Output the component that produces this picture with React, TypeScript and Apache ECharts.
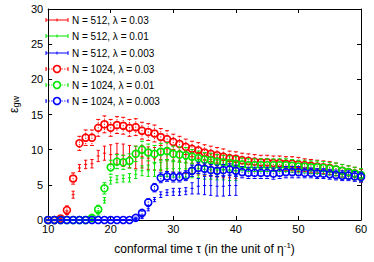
import React, { useEffect, useRef } from "react";
import * as echarts from "echarts";

// conformal time values
const tau1024 = [10,11,12,13,14,15,16,17,18,19,20,21,22,23,24,25,26,27,28,29,30,31,32,33,34,35,36,37,38,39,40,41,42,43,44,45,46,47,48,49,50,51,52,53,54,55,56,57,58,59,60];
const tau512 = [10,11,12,13,14,15,16,17,18,19,20,21,22,23,24,25,26,27,28,29,30,31,32,33,34,35,36,37,38,39,40];

// N = 512 series
const red512 = [0,0,0.1,0.9,3.6,7.4,7.9,8.0,9.1,9.5,9.3,9.4,9.2,9.0,8.9,9.0,8.8,8.7,8.6,8.5,8.4,8.3,8.2,8.1,8.0,7.9,7.8,7.7,7.6,7.6,7.5];
const red512Err = [0.05,0.05,0.1,0.4,0.5,0.5,0.6,0.6,0.8,1.0,1.4,1.5,1.6,1.6,1.6,1.6,1.6,1.6,1.6,1.6,1.6,1.6,1.6,1.6,1.6,1.6,1.6,1.6,1.6,1.6,1.6];
const green512 = [0,0,0,0,0,0,0,0.2,1.0,2.8,5.6,5.8,5.9,6.0,6.5,7.0,7.0,7.1,7.2,7.3,7.3,7.3,7.3,7.3,7.3,7.2,7.2,7.1,7.1,7.0,7.0];
const green512Err = [0.05,0.05,0.05,0.05,0.05,0.05,0.05,0.1,0.3,0.4,0.5,0.5,0.5,0.6,0.6,0.7,0.8,0.9,1.0,1.1,1.2,1.2,1.3,1.3,1.3,1.4,1.4,1.4,1.4,1.4,1.4];
const blue512 = [0,0,0,0,0,0,0,0,0,0,0,0,0,0,0,0.4,1.6,2.9,3.6,3.9,4.0,4.0,4.1,4.5,4.8,4.9,4.9,4.8,4.8,4.9,4.9];
const blue512Err = [0.05,0.05,0.05,0.05,0.05,0.05,0.05,0.05,0.05,0.05,0.05,0.05,0.05,0.05,0.05,0.2,0.3,0.3,0.4,0.4,0.5,0.5,0.5,0.8,1.1,1.3,1.4,1.4,1.4,1.4,1.4];

// N = 1024 series
const red1024 = [0,0,0.2,1.4,5.9,10.9,11.7,11.7,13.1,13.6,13.1,13.5,13.4,13.1,13.2,12.7,12.5,12.3,11.8,11.5,11.1,10.8,10.4,10.1,9.9,9.6,9.4,9.2,9.0,8.8,8.7,8.5,8.4,8.3,8.2,8.2,8.1,8.1,8.0,8.0,7.9,7.8,7.7,7.6,7.5,7.4,7.2,7.0,6.8,6.6,6.3];
const red1024Err = [0.1,0.1,0.2,0.6,0.8,1.0,1.1,1.1,1.2,1.2,1.2,1.2,1.2,1.2,1.2,1.2,1.2,1.2,1.2,1.2,1.1,1.1,1.1,1.1,1.1,1.1,1.1,1.1,1.1,1.0,1.0,1.0,1.0,1.0,1.0,1.0,1.0,1.0,1.0,1.0,1.0,0.9,0.9,0.9,0.9,0.9,0.9,0.9,0.9,0.9,0.9];
const green1024 = [0,0,0,0,0,0,0,0.3,1.5,4.5,7.5,8.3,8.2,8.4,9.4,10.0,9.6,9.4,9.7,9.8,9.4,9.3,9.2,9.0,8.8,8.6,8.5,8.3,8.2,8.1,8.0,7.9,7.8,7.8,7.8,7.8,7.8,7.8,7.8,7.7,7.6,7.6,7.5,7.5,7.4,7.3,7.2,7.0,6.8,6.6,6.4];
const green1024Err = [0.05,0.05,0.05,0.05,0.05,0.05,0.05,0.3,0.6,0.8,1.0,1.0,1.0,1.0,1.1,1.2,1.2,1.2,1.2,1.2,1.1,1.1,1.1,1.0,1.0,1.0,1.0,1.0,1.0,1.0,1.0,0.9,0.9,0.9,0.9,0.9,0.9,0.9,0.9,0.9,0.9,0.9,0.9,0.9,0.9,0.9,0.9,0.9,0.9,0.9,0.9];
const blue1024 = [0,0,0,0,0,0,0,0,0,0,0,0,0,0,0.3,1.0,2.5,4.6,6.0,6.2,6.1,6.1,6.3,7.0,7.4,7.3,7.1,7.0,7.1,7.2,7.0,6.8,6.7,6.7,6.7,6.7,6.6,6.7,6.8,6.8,6.8,6.7,6.7,6.6,6.6,6.5,6.4,6.3,6.3,6.2,6.1];
const blue1024Err = [0.05,0.05,0.05,0.05,0.05,0.05,0.05,0.05,0.05,0.05,0.05,0.05,0.05,0.05,0.1,0.3,0.5,0.6,0.7,0.7,0.7,0.7,0.7,0.8,0.8,0.8,0.8,0.8,0.8,0.8,0.8,0.8,0.8,0.8,0.8,0.8,0.8,0.8,0.8,0.8,0.8,0.7,0.7,0.7,0.7,0.7,0.7,0.7,0.7,0.7,0.7];

const legendLabels = [
  "N = 512, λ = 0.03",
  "N = 512, λ = 0.01",
  "N = 512, λ = 0.003",
  "N = 1024, λ = 0.03",
  "N = 1024, λ = 0.01",
  "N = 1024, λ = 0.003",
];

const RED = "#ff0000";
const GREEN = "#00e600";
const BLUE = "#0000ff";
const FONT = "'Liberation Sans', Arial, Helvetica, sans-serif";

function rows(x: number[], y: number[], e: number[]) {
  return x.map((v, i) => [v, y[i], e[i]]);
}

function makeRender(color: string, big: boolean) {
  return (_params: any, api: any) => {
    const x = api.value(0);
    const y = api.value(1);
    const e = api.value(2);
    const p = api.coord([x, y]);
    const hi = api.coord([x, y + e]);
    const lo = api.coord([x, y - e]);
    const dash = big ? [1.2, 1.4] : null;
    const cw = big ? 2 : 1.6;
    const lineStyle: any = { stroke: color, lineWidth: 1, lineDash: dash };
    const children: any[] = [
      { type: "line", shape: { x1: p[0], y1: hi[1], x2: p[0], y2: lo[1] }, style: lineStyle },
      { type: "line", shape: { x1: p[0] - cw, y1: hi[1], x2: p[0] + cw, y2: hi[1] }, style: { stroke: color, lineWidth: 1 } },
      { type: "line", shape: { x1: p[0] - cw, y1: lo[1], x2: p[0] + cw, y2: lo[1] }, style: { stroke: color, lineWidth: 1 } },
    ];
    if (big) {
      children.push({ type: "circle", shape: { cx: p[0], cy: p[1], r: 3.5 }, style: { fill: "none", stroke: color, lineWidth: 1.6 } });
    } else {
      children.push({ type: "line", shape: { x1: p[0] - 1.5, y1: p[1], x2: p[0] + 1.5, y2: p[1] }, style: { stroke: color, lineWidth: 1 } });
    }
    return { type: "group", children };
  };
}

function legendItem(i: number, color: string, big: boolean): any[] {
  const y = [20, 36, 53, 69, 85, 101][i];
  const x1 = 46, x2 = 68, cx = 57;
  const items: any[] = [
    { type: "line", shape: { x1, y1: y, x2, y2: y }, style: { stroke: color, lineWidth: 1, lineDash: big ? [1.2, 1.4] : null } },
    { type: "line", shape: { x1, y1: y - 2, x2: x1, y2: y + 2 }, style: { stroke: color, lineWidth: 1 } },
    { type: "line", shape: { x1: x2, y1: y - 2, x2: x2, y2: y + 2 }, style: { stroke: color, lineWidth: 1 } },
  ];
  if (big) {
    items.push({ type: "circle", shape: { cx, cy: y, r: 3.5 }, style: { fill: "#fff", stroke: color, lineWidth: 1.6 } });
  } else {
    items.push({ type: "line", shape: { x1: cx, y1: y - 1.5, x2: cx, y2: y + 1.5 }, style: { stroke: color, lineWidth: 1 } });
  }
  items.push({
    type: "text",
    x: 72,
    y,
    style: { text: legendLabels[i], fill: "#000", font: `10px ${FONT}`, verticalAlign: "middle", align: "left" },
  });
  return items;
}

export default function App() {
  const ref = useRef<HTMLDivElement>(null);
  useEffect(() => {
    if (!ref.current) return;
    const chart = echarts.init(ref.current, null, { renderer: "svg" });
    const axisCommon = {
      type: "value" as const,
      axisLine: { show: true, onZero: false, lineStyle: { color: "#000", width: 1 } },
      axisTick: { show: true, inside: true, length: 4, lineStyle: { color: "#000" } },
      splitLine: { show: false },
    };
    const seriesDefs: [string, number[], number[], number[], string, boolean][] = [
      [legendLabels[0], tau512, red512, red512Err, RED, false],
      [legendLabels[1], tau512, green512, green512Err, GREEN, false],
      [legendLabels[2], tau512, blue512, blue512Err, BLUE, false],
      [legendLabels[3], tau1024, red1024, red1024Err, RED, true],
      [legendLabels[4], tau1024, green1024, green1024Err, GREEN, true],
      [legendLabels[5], tau1024, blue1024, blue1024Err, BLUE, true],
    ];
    chart.setOption({
      animation: false,
      backgroundColor: "#fff",
      grid: { left: 39, right: 13, top: 9, bottom: 34, show: false },
      xAxis: [
        {
          ...axisCommon,
          min: 10,
          max: 60,
          interval: 10,
          position: "bottom",
          axisLabel: { color: "#000", fontSize: 11, fontFamily: FONT, margin: 3 },
          name: "conformal time τ (in the unit of η{sup|-1})",
          nameLocation: "middle",
          nameGap: 21,
          nameTextStyle: {
            color: "#000",
            fontSize: 12,
            fontFamily: FONT,
            lineHeight: 16,
            rich: { sup: { fontSize: 8, fontFamily: FONT, verticalAlign: "top", lineHeight: 10, color: "#000" } },
          },
        },
        { ...axisCommon, min: 10, max: 60, interval: 10, position: "top", axisLabel: { show: false } },
      ],
      yAxis: [
        {
          ...axisCommon,
          min: 0,
          max: 30,
          interval: 5,
          position: "left",
          axisLabel: { color: "#000", fontSize: 11, fontFamily: FONT, margin: 5 },
          name: "ε{sub|gw}",
          nameLocation: "middle",
          nameGap: 22,
          nameRotate: 90,
          nameTextStyle: {
            color: "#000",
            fontSize: 12,
            fontFamily: FONT,
            padding: [0, 0, 0, 20],
            rich: { sub: { fontSize: 9, fontFamily: FONT, verticalAlign: "bottom", color: "#000" } },
          },
        },
        { ...axisCommon, min: 0, max: 30, interval: 5, position: "right", axisLabel: { show: false } },
      ],
      graphic: [
        ...legendItem(0, RED, false),
        ...legendItem(1, GREEN, false),
        ...legendItem(2, BLUE, false),
        ...legendItem(3, RED, true),
        ...legendItem(4, GREEN, true),
        ...legendItem(5, BLUE, true),
      ],
      series: seriesDefs.map(([name, x, y, e, color, big]) => ({
        type: "custom",
        name,
        clip: false,
        xAxisIndex: 0,
        yAxisIndex: 0,
        data: rows(x, y, e),
        encode: { x: 0, y: 1 },
        renderItem: makeRender(color, big),
      })),
    });
    return () => chart.dispose();
  }, []);
  return <div ref={ref} style={{ width: 374, height: 262, position: "absolute", left: 0, top: 0 }} />;
}
